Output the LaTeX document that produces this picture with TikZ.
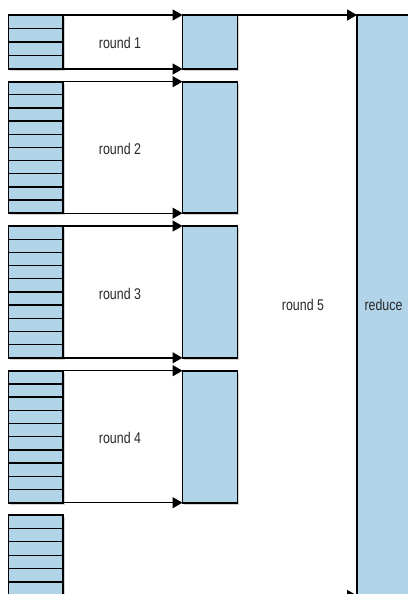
\documentclass[tikz,border=0pt]{standalone}
\usepackage{fontspec}
\setmainfont[FakeStretch=0.8]{Liberation Sans}
\usetikzlibrary{arrows.meta,shadows,calc}
\definecolor{cellblue}{RGB}{177,212,233}
\definecolor{txtgray}{RGB}{40,40,40}
\begin{document}
\begin{tikzpicture}[x=1pt,y=-1pt,
  boxstyle/.style={draw=black, line width=1.8pt, fill=cellblue, rectangle,
    inner sep=0pt, outer sep=0pt, anchor=north west,
    drop shadow={shadow xshift=1.8pt, shadow yshift=-1.8pt, opacity=0.35}},
  stackbox/.style={boxstyle, minimum width=54.5pt},
  outbox/.style={boxstyle, minimum width=55pt},
  rowline/.style={line width=1.3pt, black},
  arr/.style={line width=1.4pt, -{Triangle[length=10pt,width=11pt]}},
  lbl/.style={font=\fontsize{15.5}{17}\selectfont, text=txtgray, inner sep=0pt}
]
\useasboundingbox (0,0) rectangle (407,594);

% reduce box
\node[boxstyle, minimum width=70pt, minimum height=600pt] (red) at (357,15) {};

% blocks
\node[stackbox, minimum height=54pt] (s1) at (8.5,15) {};
\node[outbox, minimum height=54pt] (r1) at (182.5,15) {};
\node[stackbox, minimum height=131.5pt] (s2) at (8.5,81.7) {};
\node[outbox, minimum height=131.5pt] (r2) at (182.5,81.7) {};
\node[stackbox, minimum height=131.8pt] (s3) at (8.5,226) {};
\node[outbox, minimum height=131.8pt] (r3) at (182.5,226) {};
\node[stackbox, minimum height=132pt] (s4) at (8.5,370.7) {};
\node[outbox, minimum height=132pt] (r4) at (182.5,370.7) {};
\node[stackbox, minimum height=80.5pt] (s5) at (8.5,515) {};

% row lines
\foreach \i in {1,2,3}
  \draw[rowline] ($(s1.north west)!\i/4!(s1.south west)$) -- ($(s1.north east)!\i/4!(s1.south east)$);
\foreach \s in {s2,s3,s4}
  \foreach \i in {1,...,9}
    \draw[rowline] ($(\s.north west)!\i/10!(\s.south west)$) -- ($(\s.north east)!\i/10!(\s.south east)$);
\foreach \i in {1,...,5}
  \draw[rowline] ($(s5.north west)!\i/6!(s5.south west)$) -- ($(s5.north east)!\i/6!(s5.south east)$);

% arrows
\foreach \k in {1,2,3,4}{
  \draw[arr] (s\k.north east) -- (r\k.north west);
  \draw[arr] (s\k.south east) -- (r\k.south west);
}
\draw[arr] (r1.north east) -- (red.north west);
\draw[arr] (s5.south east) -- (s5.south east -| red.west);

% labels
\node[lbl] (l1) at (120,43) {round 1};
\node[lbl] (l2) at (120,149) {round 2};
\node[lbl] (l3) at (120,294) {round 3};
\node[lbl] (l4) at (120,438) {round 4};
\node[lbl] (l5) at (303,305) {round 5};
\node[lbl] (l6) at (383.5,305) {reduce};
\end{tikzpicture}
\end{document}
